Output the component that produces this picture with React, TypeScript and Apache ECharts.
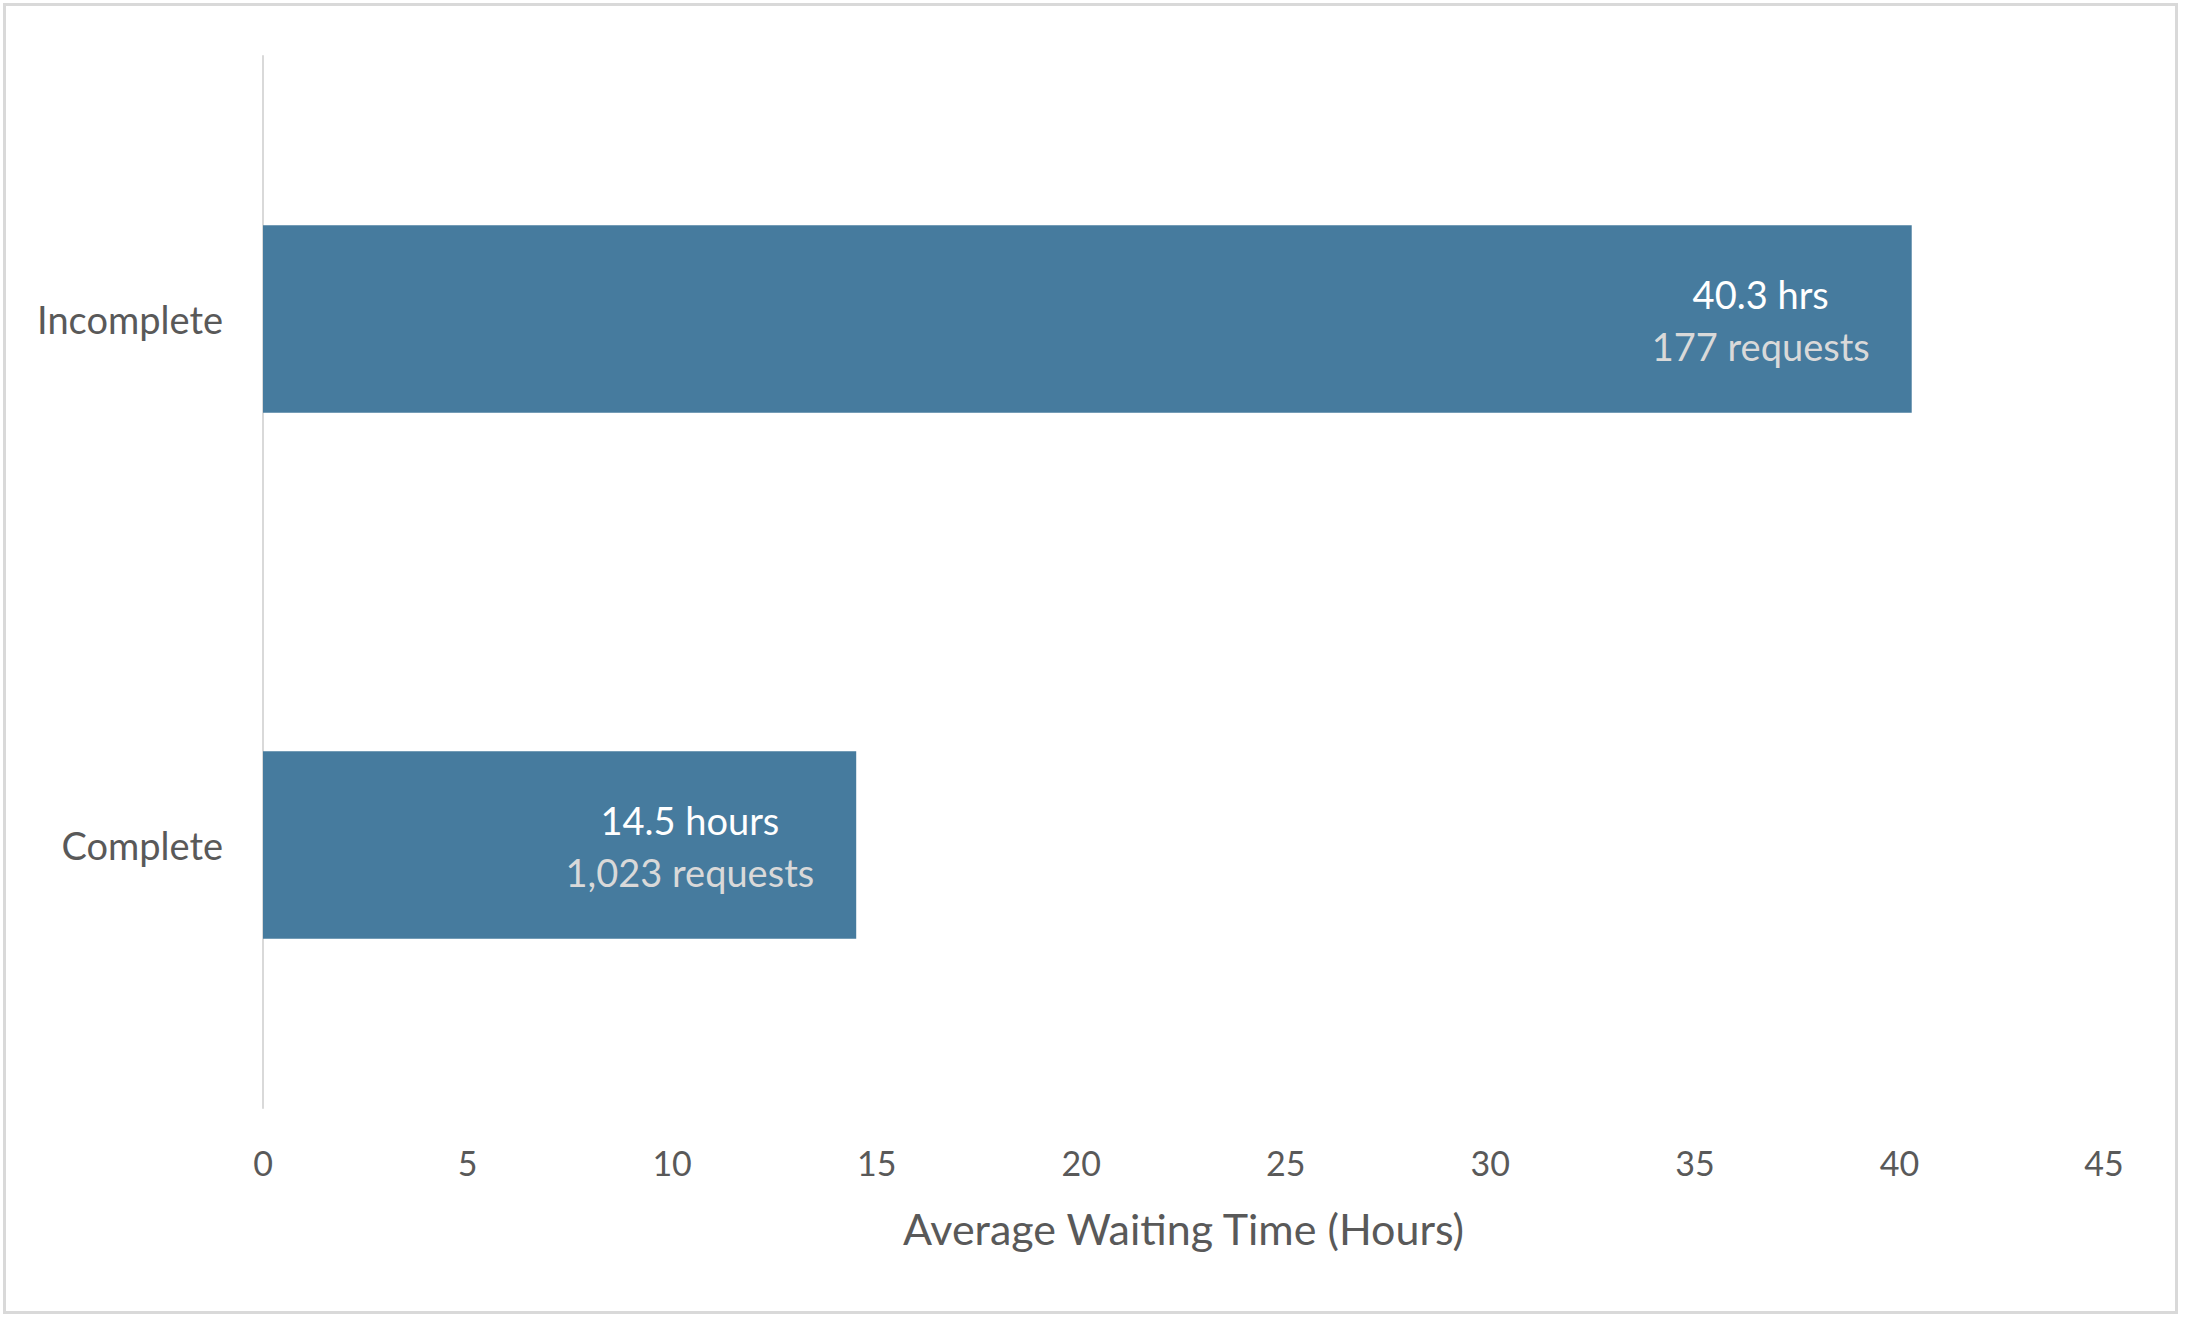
import React, { useEffect, useRef } from "react";
import * as echarts from "echarts";

const categories = ["Complete", "Incomplete"];
const waitHours = [14.5, 40.3];
const hourLabels = ["14.5 hours", "40.3 hrs"];
const requestLabels = ["1,023 requests", "177 requests"];
const xTicks = { min: 0, max: 45, interval: 5 };
const axisTitle = "Average Waiting Time (Hours)";

const FONT = "Lato, 'Noto Sans', sans-serif";
const TEXT_GRAY = "#595959";
const LINE_GRAY = "#D9D9D9";
const BAR_COLOR = "#467B9E";

export default function App() {
  const ref = useRef<HTMLDivElement>(null);

  useEffect(() => {
    if (!ref.current) return;
    const chart = echarts.init(ref.current, undefined, { renderer: "svg" });
    chart.setOption({
      animation: false,
      backgroundColor: "#FFFFFF",
      textStyle: { fontFamily: FONT },
      graphic: [
        {
          type: "rect",
          shape: { x: 4.5, y: 4.5, width: 2172, height: 1308 },
          style: { fill: "none", stroke: LINE_GRAY, lineWidth: 3 },
          silent: true,
        },
      ],
      grid: { left: 263, right: 82, top: 56, bottom: 212 },
      xAxis: {
        type: "value",
        min: xTicks.min,
        max: xTicks.max,
        interval: xTicks.interval,
        axisLine: { show: false },
        axisTick: { show: false },
        splitLine: { show: false },
        axisLabel: {
          color: TEXT_GRAY,
          fontSize: 34,
          fontFamily: FONT,
          margin: 37,
        },
        name: axisTitle,
        nameLocation: "middle",
        nameGap: 99,
        nameTextStyle: { color: TEXT_GRAY, fontSize: 43, fontFamily: FONT },
      },
      yAxis: {
        type: "category",
        data: categories,
        axisLine: { show: true, lineStyle: { color: LINE_GRAY, width: 2 } },
        axisTick: { show: false },
        splitLine: { show: false },
        axisLabel: {
          color: TEXT_GRAY,
          fontSize: 38,
          fontFamily: FONT,
          margin: 40,
          padding: [0, 0, 6, 0],
        },
      },
      series: [
        {
          type: "bar",
          data: waitHours.map((v, i) => ({
            value: v,
            label: {
              formatter: `{a|${hourLabels[i]}}\n{b|${requestLabels[i]}}`,
            },
          })),
          barWidth: "35.6%",
          itemStyle: { color: BAR_COLOR },
          label: {
            show: true,
            position: "insideRight",
            distance: 42,
            offset: [0, 1],
            rich: {
              a: {
                color: "#FFFFFF",
                fontSize: 38,
                fontFamily: FONT,
                lineHeight: 52,
                align: "center",
              },
              b: {
                color: LINE_GRAY,
                fontSize: 38,
                fontFamily: FONT,
                lineHeight: 52,
                align: "center",
              },
            },
          },
        },
      ],
    });
    return () => chart.dispose();
  }, []);

  return (
    <div
      ref={ref}
      style={{ position: "absolute", left: 0, top: 0, width: 2186, height: 1320 }}
    />
  );
}
